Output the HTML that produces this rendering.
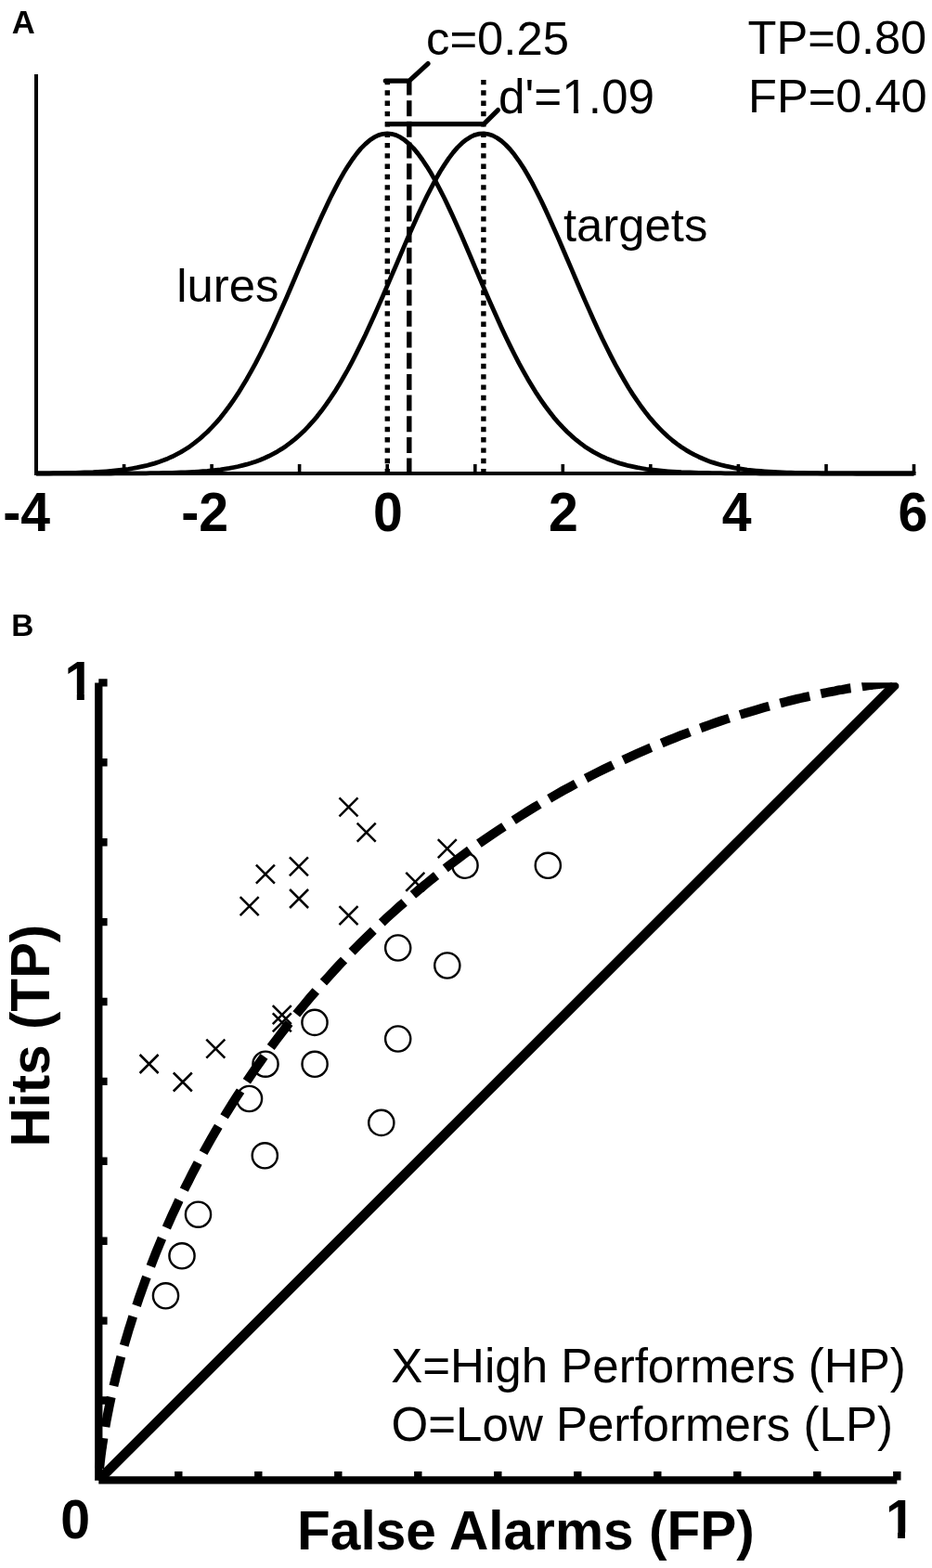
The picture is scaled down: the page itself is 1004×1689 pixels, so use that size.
<!DOCTYPE html>
<html><head><meta charset="utf-8"><title>Figure</title>
<style>html,body{margin:0;padding:0;background:#fff}body{width:1004px;height:1689px;overflow:hidden}</style></head>
<body>
<svg width="1004" height="1689" viewBox="0 0 1004 1689" style="display:block">
<rect width="1004" height="1689" fill="#fff"/>
<g font-family="'Liberation Sans', Arial, Helvetica, sans-serif" fill="#000">
<text x="12.8" y="36" font-size="34.6" font-weight="bold">A</text>
<text x="12.3" y="685" font-size="33.4" font-weight="bold">B</text>
<path d="M39,80 V512.0 M37,510.0 H986.5" stroke="#000" stroke-width="4" fill="none"/>
<path d="M133.6,510.0 v-10 M228.1,510.0 v-10 M322.6,510.0 v-10 M417.2,510.0 v-10 M511.8,510.0 v-10 M606.3,510.0 v-10 M700.8,510.0 v-10 M795.4,510.0 v-10 M890.0,510.0 v-10 M984.5,510.0 v-10 " stroke="#000" stroke-width="3.6" fill="none"/>
<text transform="translate(418.0,572.2) scale(0.96,1)" font-size="59.6" font-weight="bold" text-anchor="middle">0</text>
<text transform="translate(606.8,572.2) scale(0.96,1)" font-size="59.6" font-weight="bold" text-anchor="middle">2</text>
<text transform="translate(793.7,572.2) scale(0.96,1)" font-size="59.6" font-weight="bold" text-anchor="middle">4</text>
<text transform="translate(983.4,572.2) scale(0.96,1)" font-size="59.6" font-weight="bold" text-anchor="middle">6</text>
<text transform="translate(54.0,572.2) scale(0.96,1)" font-size="59.6" font-weight="bold" text-anchor="end">-4</text>
<text transform="translate(246.0,572.2) scale(0.96,1)" font-size="59.6" font-weight="bold" text-anchor="end">-2</text>
<path d="M39.0,509.9 L43.7,509.9 L48.5,509.8 L53.2,509.8 L57.9,509.7 L62.6,509.7 L67.4,509.6 L72.1,509.5 L76.8,509.4 L81.5,509.3 L86.3,509.2 L91.0,509.0 L95.7,508.9 L100.5,508.7 L105.2,508.4 L109.9,508.1 L114.6,507.8 L119.4,507.4 L124.1,507.0 L128.8,506.5 L133.5,505.9 L138.3,505.3 L143.0,504.5 L147.7,503.7 L152.5,502.7 L157.2,501.7 L161.9,500.4 L166.6,499.1 L171.4,497.5 L176.1,495.8 L180.8,493.9 L185.6,491.8 L190.3,489.4 L195.0,486.9 L199.7,484.0 L204.5,480.9 L209.2,477.4 L213.9,473.7 L218.6,469.6 L223.4,465.2 L228.1,460.4 L232.8,455.3 L237.6,449.8 L242.3,443.8 L247.0,437.5 L251.7,430.8 L256.5,423.7 L261.2,416.1 L265.9,408.2 L270.6,399.8 L275.4,391.1 L280.1,382.0 L284.8,372.6 L289.6,362.8 L294.3,352.7 L299.0,342.3 L303.7,331.8 L308.5,321.0 L313.2,310.0 L317.9,299.0 L322.6,287.9 L327.4,276.8 L332.1,265.8 L336.8,254.8 L341.6,244.1 L346.3,233.6 L351.0,223.4 L355.7,213.5 L360.5,204.1 L365.2,195.2 L369.9,186.8 L374.7,179.1 L379.4,172.0 L384.1,165.6 L388.8,159.9 L393.6,155.1 L398.3,151.1 L403.0,147.9 L407.7,145.6 L412.5,144.3 L417.2,143.8 L421.9,144.3 L426.7,145.6 L431.4,147.9 L436.1,151.1 L440.8,155.1 L445.6,159.9 L450.3,165.6 L455.0,172.0 L459.7,179.1 L464.5,186.8 L469.2,195.2 L473.9,204.1 L478.7,213.5 L483.4,223.4 L488.1,233.6 L492.8,244.1 L497.6,254.8 L502.3,265.8 L507.0,276.8 L511.7,287.9 L516.5,299.0 L521.2,310.0 L525.9,321.0 L530.7,331.8 L535.4,342.3 L540.1,352.7 L544.8,362.8 L549.6,372.6 L554.3,382.0 L559.0,391.1 L563.8,399.8 L568.5,408.2 L573.2,416.1 L577.9,423.7 L582.7,430.8 L587.4,437.5 L592.1,443.8 L596.8,449.8 L601.6,455.3 L606.3,460.4 L611.0,465.2 L615.8,469.6 L620.5,473.7 L625.2,477.4 L629.9,480.9 L634.7,484.0 L639.4,486.9 L644.1,489.4 L648.8,491.8 L653.6,493.9 L658.3,495.8 L663.0,497.5 L667.8,499.1 L672.5,500.4 L677.2,501.7 L681.9,502.7 L686.7,503.7 L691.4,504.5 L696.1,505.3 L700.8,505.9 L705.6,506.5 L710.3,507.0 L715.0,507.4 L719.8,507.8 L724.5,508.1 L729.2,508.4 L733.9,508.7 L738.7,508.9 L743.4,509.0 L748.1,509.2 L752.9,509.3 L757.6,509.4 L762.3,509.5 L767.0,509.6 L771.8,509.7 L776.5,509.7 L781.2,509.8 L785.9,509.8 L790.7,509.9 L795.4,509.9 L800.1,509.9 L804.9,509.9 L809.6,509.9 L814.3,509.9 L819.0,510.0 L823.8,510.0 L828.5,510.0 L833.2,510.0 L837.9,510.0 L842.7,510.0 L847.4,510.0 L852.1,510.0 L856.9,510.0 L861.6,510.0 L866.3,510.0 L871.0,510.0 L875.8,510.0 L880.5,510.0 L885.2,510.0 L889.9,510.0 L894.7,510.0 L899.4,510.0 L904.1,510.0 L908.9,510.0 L913.6,510.0 L918.3,510.0 L923.0,510.0 L927.8,510.0 L932.5,510.0 L937.2,510.0 L942.0,510.0 L946.7,510.0 L951.4,510.0 L956.1,510.0 L960.9,510.0 L965.6,510.0 L970.3,510.0 L975.0,510.0 L979.8,510.0 L984.5,510.0" stroke="#000" stroke-width="4.8" fill="none" stroke-linejoin="round"/>
<path d="M39.0,510.0 L43.7,510.0 L48.5,510.0 L53.2,510.0 L57.9,510.0 L62.6,510.0 L67.4,510.0 L72.1,510.0 L76.8,510.0 L81.5,510.0 L86.3,510.0 L91.0,510.0 L95.7,510.0 L100.5,510.0 L105.2,510.0 L109.9,510.0 L114.6,510.0 L119.4,510.0 L124.1,509.9 L128.8,509.9 L133.5,509.9 L138.3,509.9 L143.0,509.9 L147.7,509.8 L152.5,509.8 L157.2,509.8 L161.9,509.7 L166.6,509.7 L171.4,509.6 L176.1,509.5 L180.8,509.4 L185.6,509.3 L190.3,509.2 L195.0,509.0 L199.7,508.8 L204.5,508.6 L209.2,508.4 L213.9,508.1 L218.6,507.7 L223.4,507.4 L228.1,506.9 L232.8,506.4 L237.6,505.8 L242.3,505.1 L247.0,504.4 L251.7,503.5 L256.5,502.5 L261.2,501.4 L265.9,500.2 L270.6,498.8 L275.4,497.2 L280.1,495.5 L284.8,493.5 L289.6,491.3 L294.3,488.9 L299.0,486.3 L303.7,483.4 L308.5,480.2 L313.2,476.7 L317.9,472.9 L322.6,468.8 L327.4,464.3 L332.1,459.4 L336.8,454.2 L341.6,448.6 L346.3,442.6 L351.0,436.2 L355.7,429.4 L360.5,422.2 L365.2,414.6 L369.9,406.5 L374.7,398.1 L379.4,389.3 L384.1,380.2 L388.8,370.6 L393.6,360.8 L398.3,350.6 L403.0,340.2 L407.7,329.6 L412.5,318.8 L417.2,307.8 L421.9,296.8 L426.7,285.7 L431.4,274.6 L436.1,263.6 L440.8,252.7 L445.6,242.0 L450.3,231.5 L455.0,221.4 L459.7,211.6 L464.5,202.3 L469.2,193.5 L473.9,185.2 L478.7,177.6 L483.4,170.6 L488.1,164.4 L492.8,158.9 L497.6,154.2 L502.3,150.4 L507.0,147.4 L511.7,145.3 L516.5,144.1 L521.2,143.8 L525.9,144.5 L530.7,146.0 L535.4,148.5 L540.1,151.8 L544.8,156.0 L549.6,161.0 L554.3,166.8 L559.0,173.3 L563.8,180.6 L568.5,188.5 L573.2,196.9 L577.9,206.0 L582.7,215.5 L587.4,225.4 L592.1,235.7 L596.8,246.2 L601.6,257.0 L606.3,268.0 L611.0,279.0 L615.8,290.1 L620.5,301.2 L625.2,312.2 L629.9,323.1 L634.7,333.9 L639.4,344.4 L644.1,354.7 L648.8,364.8 L653.6,374.5 L658.3,383.9 L663.0,392.9 L667.8,401.5 L672.5,409.8 L677.2,417.7 L681.9,425.1 L686.7,432.2 L691.4,438.8 L696.1,445.1 L700.8,450.9 L705.6,456.4 L710.3,461.4 L715.0,466.1 L719.8,470.5 L724.5,474.5 L729.2,478.1 L733.9,481.5 L738.7,484.6 L743.4,487.4 L748.1,489.9 L752.9,492.2 L757.6,494.3 L762.3,496.2 L767.0,497.9 L771.8,499.4 L776.5,500.7 L781.2,501.9 L785.9,502.9 L790.7,503.9 L795.4,504.7 L800.1,505.4 L804.9,506.1 L809.6,506.6 L814.3,507.1 L819.0,507.5 L823.8,507.9 L828.5,508.2 L833.2,508.5 L837.9,508.7 L842.7,508.9 L847.4,509.1 L852.1,509.2 L856.9,509.4 L861.6,509.5 L866.3,509.5 L871.0,509.6 L875.8,509.7 L880.5,509.7 L885.2,509.8 L889.9,509.8 L894.7,509.9 L899.4,509.9 L904.1,509.9 L908.9,509.9 L913.6,509.9 L918.3,509.9 L923.0,510.0 L927.8,510.0 L932.5,510.0 L937.2,510.0 L942.0,510.0 L946.7,510.0 L951.4,510.0 L956.1,510.0 L960.9,510.0 L965.6,510.0 L970.3,510.0 L975.0,510.0 L979.8,510.0 L984.5,510.0" stroke="#000" stroke-width="4.8" fill="none" stroke-linejoin="round"/>
<path d="M417.3,85.9 V510.0" stroke="#000" stroke-width="5.4" stroke-dasharray="5.4,5.93" fill="none"/>
<path d="M520.9,85.9 V510.0" stroke="#000" stroke-width="5.4" stroke-dasharray="5.4,5.93" fill="none"/>
<path d="M440.8,85.5 V510.0" stroke="#000" stroke-width="5.4" stroke-dasharray="17,5.67" fill="none"/>
<path d="M415.3,87.1 H440.8 L461,68.6" stroke="#000" stroke-width="5.2" fill="none" stroke-linecap="round" stroke-linejoin="round"/>
<path d="M415,133.6 H521.2" stroke="#000" stroke-width="5.2" fill="none"/>
<path d="M521.2,133.6 L536.4,118.6" stroke="#000" stroke-width="5.2" fill="none" stroke-linecap="round"/>
<text x="459" y="59" font-size="50.8">c=0.25</text>
<text x="537" y="121.6" font-size="51.3">d'=1.09</text>
<text x="805.6" y="57.6" font-size="50.6">TP=0.80</text>
<text x="806" y="121.2" font-size="50.6">FP=0.40</text>
<text x="190.3" y="325" font-size="50.8">lures</text>
<text x="607" y="260.3" font-size="50.8">targets</text>
<clipPath id="cb"><rect x="102" y="735.2" width="866.3" height="863.2"/></clipPath>
<path d="M106.3,735.4000000000001 V1594.4 M106.3,1594.4 H966.3" stroke="#000" stroke-width="8.3" fill="none"/>
<path d="M106.3,1508.5 h9.3 M192.3,1594.4 v-9.3 M106.3,1422.6 h9.3 M278.3,1594.4 v-9.3 M106.3,1336.7 h9.3 M364.3,1594.4 v-9.3 M106.3,1250.8 h9.3 M450.3,1594.4 v-9.3 M106.3,1164.9 h9.3 M536.3,1594.4 v-9.3 M106.3,1079.0 h9.3 M622.3,1594.4 v-9.3 M106.3,993.1 h9.3 M708.3,1594.4 v-9.3 M106.3,907.2 h9.3 M794.3,1594.4 v-9.3 M106.3,821.3 h9.3 M880.3,1594.4 v-9.3 M106.3,735.4 h9.3 M966.3,1594.4 v-9.3 " stroke="#000" stroke-width="8.4" fill="none"/>
<g clip-path="url(#cb)">
<path d="M106.3,1594.4 L966.3,735.4000000000001" stroke="#000" stroke-width="10.5" fill="none"/>
<path d="M106.3,1594.4 L106.3,1594.4 L106.3,1594.4 L106.3,1594.4 L106.3,1594.4 L106.3,1594.4 L106.3,1594.4 L106.3,1594.4 L106.3,1594.4 L106.3,1594.4 L106.3,1594.3 L106.3,1594.3 L106.3,1594.3 L106.3,1594.3 L106.3,1594.3 L106.3,1594.3 L106.3,1594.3 L106.3,1594.3 L106.3,1594.3 L106.3,1594.3 L106.3,1594.3 L106.3,1594.3 L106.3,1594.3 L106.3,1594.2 L106.3,1594.2 L106.3,1594.2 L106.3,1594.2 L106.3,1594.2 L106.3,1594.2 L106.3,1594.1 L106.3,1594.1 L106.3,1594.1 L106.3,1594.1 L106.3,1594.0 L106.3,1594.0 L106.3,1594.0 L106.3,1593.9 L106.3,1593.9 L106.3,1593.8 L106.3,1593.8 L106.3,1593.8 L106.3,1593.7 L106.3,1593.6 L106.3,1593.6 L106.3,1593.5 L106.3,1593.5 L106.3,1593.4 L106.3,1593.3 L106.3,1593.2 L106.3,1593.1 L106.4,1593.0 L106.4,1592.9 L106.4,1592.8 L106.4,1592.7 L106.4,1592.6 L106.4,1592.4 L106.4,1592.3 L106.4,1592.2 L106.4,1592.0 L106.4,1591.8 L106.4,1591.6 L106.4,1591.4 L106.5,1591.2 L106.5,1591.0 L106.5,1590.8 L106.5,1590.5 L106.5,1590.3 L106.5,1590.0 L106.6,1589.7 L106.6,1589.4 L106.6,1589.1 L106.6,1588.7 L106.6,1588.3 L106.7,1588.0 L106.7,1587.5 L106.7,1587.1 L106.8,1586.7 L106.8,1586.2 L106.9,1585.7 L106.9,1585.1 L107.0,1584.6 L107.0,1584.0 L107.1,1583.3 L107.1,1582.7 L107.2,1582.0 L107.3,1581.3 L107.3,1580.5 L107.4,1579.7 L107.5,1578.9 L107.6,1578.0 L107.7,1577.1 L107.8,1576.1 L107.9,1575.1 L108.0,1574.0 L108.2,1572.9 L108.3,1571.8 L108.4,1570.6 L108.6,1569.3 L108.7,1568.0 L108.9,1566.6 L109.1,1565.2 L109.3,1563.7 L109.5,1562.2 L109.7,1560.5 L110.0,1558.9 L110.2,1557.1 L110.5,1555.3 L110.8,1553.4 L111.1,1551.5 L111.4,1549.4 L111.7,1547.3 L112.1,1545.1 L112.4,1542.9 L112.8,1540.5 L113.3,1538.1 L113.7,1535.6 L114.2,1533.0 L114.6,1530.3 L115.2,1527.6 L115.7,1524.7 L116.3,1521.8 L116.9,1518.7 L117.5,1515.6 L118.2,1512.3 L118.9,1509.0 L119.6,1505.6 L120.4,1502.1 L121.2,1498.4 L122.0,1494.7 L122.9,1490.9 L123.9,1487.0 L124.8,1482.9 L125.9,1478.8 L126.9,1474.6 L128.1,1470.2 L129.2,1465.8 L130.4,1461.2 L131.7,1456.6 L133.0,1451.8 L134.4,1446.9 L135.9,1441.9 L137.4,1436.9 L138.9,1431.7 L140.6,1426.4 L142.3,1421.0 L144.0,1415.5 L145.9,1409.9 L147.8,1404.2 L149.7,1398.4 L151.8,1392.5 L153.9,1386.6 L156.1,1380.5 L158.4,1374.3 L160.8,1368.0 L163.2,1361.7 L165.7,1355.2 L168.3,1348.7 L171.0,1342.1 L173.8,1335.4 L176.7,1328.6 L179.7,1321.8 L182.8,1314.8 L185.9,1307.8 L189.2,1300.8 L192.5,1293.6 L196.0,1286.5 L199.5,1279.2 L203.2,1271.9 L206.9,1264.5 L210.8,1257.1 L214.7,1249.7 L218.8,1242.2 L223.0,1234.7 L227.2,1227.1 L231.6,1219.5 L236.1,1211.9 L240.7,1204.2 L245.4,1196.6 L250.2,1188.9 L255.1,1181.2 L260.1,1173.5 L265.2,1165.8 L270.4,1158.0 L275.7,1150.3 L281.1,1142.6 L286.6,1135.0 L292.3,1127.3 L298.0,1119.6 L303.8,1112.0 L309.7,1104.4 L315.7,1096.8 L321.8,1089.3 L328.0,1081.8 L334.3,1074.3 L340.7,1066.9 L347.2,1059.5 L353.8,1052.2 L360.4,1044.9 L367.1,1037.7 L373.9,1030.6 L380.8,1023.5 L387.7,1016.5 L394.8,1009.6 L401.8,1002.7 L409.0,995.9 L416.2,989.2 L423.5,982.6 L430.8,976.0 L438.2,969.6 L445.6,963.2 L453.1,956.9 L460.6,950.7 L468.1,944.6 L475.7,938.6 L483.3,932.7 L491.0,926.9 L498.6,921.1 L506.3,915.5 L514.0,910.0 L521.7,904.6 L529.4,899.3 L537.2,894.1 L544.9,889.0 L552.6,884.0 L560.3,879.1 L568.0,874.3 L575.7,869.6 L583.3,865.0 L591.0,860.6 L598.6,856.2 L606.1,851.9 L613.7,847.8 L621.2,843.7 L628.6,839.8 L636.1,835.9 L643.4,832.2 L650.7,828.5 L658.0,825.0 L665.2,821.5 L672.3,818.2 L679.4,814.9 L686.4,811.8 L693.3,808.7 L700.2,805.7 L707.0,802.9 L713.7,800.1 L720.3,797.4 L726.8,794.8 L733.3,792.2 L739.7,789.8 L745.9,787.4 L752.1,785.2 L758.2,783.0 L764.2,780.8 L770.1,778.8 L775.9,776.8 L781.6,774.9 L787.2,773.1 L792.7,771.3 L798.1,769.6 L803.4,768.0 L808.6,766.4 L813.7,764.9 L818.6,763.5 L823.5,762.1 L828.3,760.8 L833.0,759.5 L837.5,758.3 L842.0,757.1 L846.3,756.0 L850.6,754.9 L854.7,753.9 L858.7,752.9 L862.7,752.0 L866.5,751.1 L870.2,750.3 L873.9,749.5 L877.4,748.7 L880.8,748.0 L884.2,747.3 L887.4,746.6 L890.5,746.0 L893.6,745.4 L896.5,744.8 L899.4,744.3 L902.2,743.7 L904.8,743.2 L907.4,742.8 L910.0,742.3 L912.4,741.9 L914.7,741.5 L917.0,741.2 L919.2,740.8 L921.3,740.5 L923.3,740.2 L925.3,739.9 L927.2,739.6 L929.0,739.3 L930.7,739.1 L932.4,738.8 L934.0,738.6 L935.6,738.4 L937.1,738.2 L938.5,738.0 L939.9,737.8 L941.2,737.7 L942.4,737.5 L943.6,737.4 L944.8,737.2 L945.9,737.1 L947.0,737.0 L948.0,736.9 L948.9,736.8 L949.9,736.7 L950.7,736.6 L951.6,736.5 L952.4,736.4 L953.2,736.4 L953.9,736.3 L954.6,736.2 L955.2,736.2 L955.9,736.1 L956.5,736.1 L957.0,736.0 L957.6,736.0 L958.1,735.9 L958.5,735.9 L959.0,735.8 L959.4,735.8 L959.9,735.8 L960.2,735.7 L960.6,735.7 L961.0,735.7 L961.3,735.7 L961.6,735.6 L961.9,735.6 L962.2,735.6 L962.4,735.6 L962.7,735.6 L962.9,735.6 L963.1,735.6 L963.3,735.5 L963.5,735.5 L963.7,735.5 L963.9,735.5 L964.1,735.5 L964.2,735.5 L964.3,735.5 L964.5,735.5 L964.6,735.5 L964.7,735.5 L964.8,735.5 L964.9,735.5 L965.0,735.4 L965.1,735.4 L965.2,735.4 L965.3,735.4 L965.4,735.4 L965.4,735.4 L965.5,735.4 L965.5,735.4 L965.6,735.4 L965.7,735.4 L965.7,735.4 L965.7,735.4 L965.8,735.4 L965.8,735.4 L965.9,735.4 L965.9,735.4 L965.9,735.4 L966.0,735.4 L966.0,735.4 L966.0,735.4 L966.0,735.4 L966.1,735.4 L966.1,735.4 L966.1,735.4 L966.1,735.4 L966.1,735.4 L966.1,735.4 L966.2,735.4 L966.2,735.4 L966.2,735.4 L966.2,735.4 L966.2,735.4 L966.2,735.4 L966.2,735.4 L966.2,735.4 L966.2,735.4 L966.2,735.4 L966.2,735.4 L966.2,735.4 L966.2,735.4 L966.3,735.4 L966.3,735.4 L966.3,735.4 L966.3,735.4 L966.3,735.4 L966.3,735.4 L966.3,735.4 L966.3,735.4 L966.3,735.4 L966.3,735.4" stroke="#000" stroke-width="9.9" stroke-dasharray="32.7,12.3" stroke-dashoffset="32" fill="none"/>
</g>
<path d="M365.5,859.3 l20,20 M365.5,879.3 l20,-20 M384.7,886.7 l20,20 M384.7,906.7 l20,-20 M275.9,931.6 l20,20 M275.9,951.6 l20,-20 M311.9,923.4 l20,20 M311.9,943.4 l20,-20 M312.1,958.0 l20,20 M312.1,978.0 l20,-20 M258.7,966.1 l20,20 M258.7,986.1 l20,-20 M365.5,976.2 l20,20 M365.5,996.2 l20,-20 M471.8,904.2 l20,20 M471.8,924.2 l20,-20 M437.3,939.8 l20,20 M437.3,959.8 l20,-20 M293.8,1083.2 l20,20 M293.8,1103.2 l20,-20 M293.8,1091.4 l20,20 M293.8,1111.4 l20,-20 M222.3,1119.7 l20,20 M222.3,1139.7 l20,-20 M150.6,1136.0 l20,20 M150.6,1156.0 l20,-20 M186.8,1155.5 l20,20 M186.8,1175.5 l20,-20 " stroke="#000" stroke-width="2.5" fill="none"/>
<circle cx="501" cy="932.3" r="13.6" stroke="#000" stroke-width="2.4" fill="none"/>
<circle cx="590.3" cy="932.3" r="13.6" stroke="#000" stroke-width="2.4" fill="none"/>
<circle cx="428.7" cy="1021" r="13.6" stroke="#000" stroke-width="2.4" fill="none"/>
<circle cx="481.8" cy="1040" r="13.6" stroke="#000" stroke-width="2.4" fill="none"/>
<circle cx="339.0" cy="1101.4" r="13.6" stroke="#000" stroke-width="2.4" fill="none"/>
<circle cx="428.7" cy="1119" r="13.6" stroke="#000" stroke-width="2.4" fill="none"/>
<circle cx="286.0" cy="1146.2" r="13.6" stroke="#000" stroke-width="2.4" fill="none"/>
<circle cx="339.1" cy="1146.3" r="13.6" stroke="#000" stroke-width="2.4" fill="none"/>
<circle cx="268.5" cy="1183.5" r="13.6" stroke="#000" stroke-width="2.4" fill="none"/>
<circle cx="410.8" cy="1209.4" r="13.6" stroke="#000" stroke-width="2.4" fill="none"/>
<circle cx="285.3" cy="1244.8" r="13.6" stroke="#000" stroke-width="2.4" fill="none"/>
<circle cx="213.5" cy="1308.2" r="13.6" stroke="#000" stroke-width="2.4" fill="none"/>
<circle cx="196" cy="1352.8" r="13.6" stroke="#000" stroke-width="2.4" fill="none"/>
<circle cx="178.5" cy="1395.8" r="13.6" stroke="#000" stroke-width="2.4" fill="none"/>
<text transform="translate(101.4,753.8) scale(0.96,1)" font-size="59.6" font-weight="bold" text-anchor="end">1</text>
<text transform="translate(81.2,1656.6) scale(0.96,1)" font-size="59.6" font-weight="bold" text-anchor="middle">0</text>
<text transform="translate(985.9,1656.9) scale(0.96,1)" font-size="59.6" font-weight="bold" text-anchor="end">1</text>
<text x="566.4" y="1668.8" font-size="58.6" font-weight="bold" text-anchor="middle">False Alarms (FP)</text>
<text transform="translate(53,1115.6) rotate(-90)" font-size="58.3" font-weight="bold" text-anchor="middle">Hits (TP)</text>
<text x="421.2" y="1488.8" font-size="51.05">X=High Performers (HP)</text>
<text x="421.6" y="1552" font-size="51.05">O=Low Performers (LP)</text>
<path d="M68.8,747.4 h14 v8 h-14z M90.8,747.4 h11 v8 h-11z M954,1650.4 h13 v8 h-13z M975,1650.4 h12 v8 h-12z M606,117.5 h12 v6 h-12z M623,117.5 h11 v6 h-11z" fill="#fff" stroke="none"/>
</g></svg>
</body></html>
